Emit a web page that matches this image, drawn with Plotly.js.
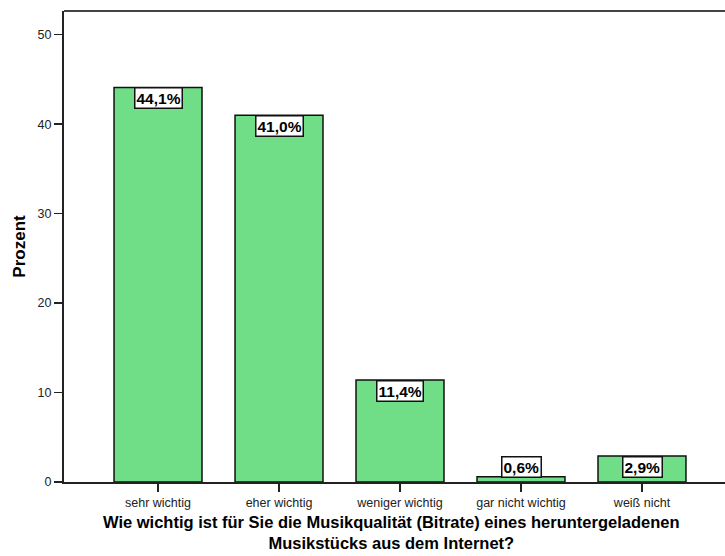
<!DOCTYPE html>
<html>
<head>
<meta charset="utf-8">
<script src="https://cdn.plot.ly/plotly-3.0.1.min.js"></script>
<style>html,body{margin:0;padding:0;background:#fff;}#chart{width:725px;height:556px;}</style>
</head>
<body>
<div id="chart"></div>
<script>
const categories = ["sehr wichtig", "eher wichtig", "weniger wichtig", "gar nicht wichtig", "weiß nicht"];
const values = [44.1, 41.0, 11.4, 0.6, 2.9];
const labels = ["44,1%", "41,0%", "11,4%", "0,6%", "2,9%"];
const yTicks = [0, 10, 20, 30, 40, 50];
const xTitleLines = ["Wie wichtig ist für Sie die Musikqualität (Bitrate) eines heruntergeladenen",
                     "Musikstücks aus dem Internet?"];

const minLabelTop = 2.9;
const font = "Liberation Sans, Arial, sans-serif";

const trace = {
  type: "bar",
  x: categories,
  y: values,
  width: 0.727,
  marker: {color: "rgb(112,221,135)", line: {color: "#111", width: 1.5}},
  hoverinfo: "none"
};

const annotations = categories.map((c, i) => ({
  x: c, y: Math.max(values[i], minLabelTop), xref: "x", yref: "y",
  yanchor: "top", xanchor: "center", showarrow: false,
  text: "<b>" + labels[i] + "</b>",
  font: {family: font, size: 15.5, color: "#000"},
  bgcolor: "#fff", bordercolor: "#111", borderwidth: 1.5, borderpad: 1
}));

annotations.push({
  x: 0.4955, y: -0.1075, xref: "paper", yref: "paper",
  xanchor: "center", yanchor: "middle", showarrow: false,
  text: "<b>" + xTitleLines.join("<br>") + "</b>",
  font: {family: font, size: 16.5, color: "#000"}
});

const layout = {
  width: 725, height: 556,
  margin: {l: 64, r: 0, t: 11, b: 74},
  paper_bgcolor: "#fff", plot_bgcolor: "#fff",
  showlegend: false,
  font: {family: font, color: "#222"},
  xaxis: {
    range: [-0.777, 4.686],
    showline: true, linecolor: "#222", linewidth: 2,
    mirror: false, showgrid: false, zeroline: false,
    ticks: "outside", ticklen: 8, tickwidth: 1.5, tickcolor: "#222",
    tickfont: {family: font, size: 12.5, color: "#222"}
  },
  yaxis: {
    range: [0, 52.65],
    tickvals: yTicks, ticktext: yTicks.map(String),
    showline: true, linecolor: "#222", linewidth: 2, mirror: false,
    showgrid: false, zeroline: false,
    ticks: "outside", ticklen: 8, tickwidth: 1.5, tickcolor: "#222",
    tickfont: {family: font, size: 12.5, color: "#222"},
    title: {text: "<b>Prozent</b>", font: {family: font, size: 17, color: "#000"}, standoff: 8}
  },
  shapes: [{type: "line", xref: "paper", yref: "paper", x0: 0, x1: 1, y0: 1, y1: 1,
            line: {color: "#444", width: 2}}],
  annotations: annotations
};

Plotly.newPlot("chart", [trace], layout, {displayModeBar: false, staticPlot: true});
</script>
</body>
</html>
